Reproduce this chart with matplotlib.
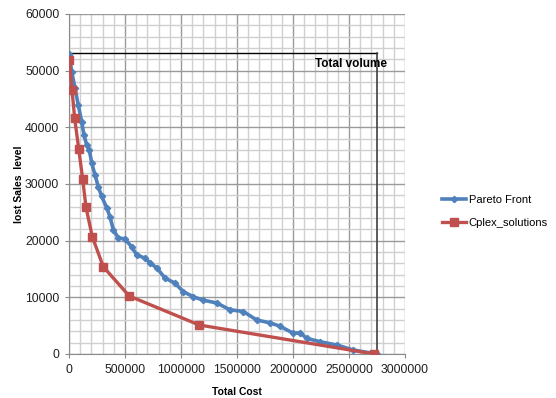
import matplotlib
matplotlib.use("Agg")
import matplotlib.pyplot as plt
from matplotlib.ticker import MultipleLocator, FormatStrFormatter

plt.rcParams['font.family'] = ['Liberation Sans', 'DejaVu Sans']

# Pareto front
pareto_cost = [0, 3000, 24000, 54000, 83000, 113000, 134000, 158000, 181000,
               203000, 232000, 262000, 292000, 337000, 366000, 396000, 440000,
               500000, 560000, 604000, 679000, 723000, 783000, 857000, 946000,
               1021000, 1110000, 1199000, 1319000, 1438000, 1556000, 1676000,
               1795000, 1884000, 2003000, 2063000, 2122000, 2241000, 2390000,
               2539000, 2750000]
pareto_lost = [53000, 52750, 49800, 46900, 43900, 41000, 38600, 36900, 36000,
               33700, 31600, 29500, 27800, 25800, 24200, 21900, 20500,
               20300, 18900, 17500, 16900, 16100, 15200, 13400, 12500,
               11000, 10100, 9500, 9000, 7800, 7500, 6000,
               5500, 4900, 3650, 3750, 2770, 2170, 1590,
               700, 0]

# Cplex solutions
cplex_cost = [3000, 27000, 51000, 87000, 122000, 152000, 208000, 306000,
              538000, 1163000, 2726000]
cplex_lost = [51850, 46560, 41560, 36150, 30860, 25870, 20690, 15400,
              10230, 5115, 0]

total_cost = 2750000
total_volume = 53100

fig = plt.figure(figsize=(5.56, 3.98), dpi=100)
ax = fig.add_axes([69 / 556, 44 / 398, 336 / 556, 340 / 398])

ax.plot(pareto_cost, pareto_lost, color='#4F81BD', lw=2.6, marker='D',
        ms=3.2, label='Pareto Front', zorder=4)
ax.plot(cplex_cost, cplex_lost, color='#C0504D', lw=2.4, marker='s',
        ms=5.5, label='Cplex_solutions', zorder=5)

# total volume box
ax.plot([0, total_cost], [total_volume, total_volume], color='black', lw=1, zorder=3)
ax.plot([total_cost, total_cost], [0, total_volume], color='#404040', lw=1.2, zorder=3)
ax.text(total_cost + 90000, total_volume - 800, 'Total volume', ha='right',
        va='top', fontsize=8.5, fontweight='bold', color='black')

ax.set_xlim(0, 3000000)
ax.set_ylim(0, 60000)
ax.xaxis.set_major_locator(MultipleLocator(500000))
ax.xaxis.set_minor_locator(MultipleLocator(100000))
ax.yaxis.set_major_locator(MultipleLocator(10000))
ax.yaxis.set_minor_locator(MultipleLocator(2000))
ax.xaxis.set_major_formatter(FormatStrFormatter('%d'))
ax.yaxis.set_major_formatter(FormatStrFormatter('%d'))
ax.grid(which='major', color='#9a9a9a', lw=1.0, zorder=0)
ax.grid(which='minor', color='#d0d0d0', lw=1.0, zorder=0)
ax.set_axisbelow(True)

for s in ['top', 'right']:
    ax.spines[s].set_visible(False)
for s in ['left', 'bottom']:
    ax.spines[s].set_color('#8a8a8a')
ax.tick_params(which='major', length=3, color='#8a8a8a', labelsize=8.8,
               labelcolor='#202020', pad=4)
ax.tick_params(which='minor', length=0)

ax.set_xlabel('Total Cost', fontsize=7.5, fontweight='bold')
ax.set_ylabel('lost Sales  level', fontsize=7.5, fontweight='bold')
ax.xaxis.set_label_coords(0.5, -0.097)
ax.yaxis.set_label_coords(-0.135, 0.5)

ax.legend(loc='center left', bbox_to_anchor=(1.08, 0.42), frameon=False,
          fontsize=8, handlelength=2.2, handletextpad=0.2, labelspacing=1.2)

fig.savefig('out.png', dpi=100)
